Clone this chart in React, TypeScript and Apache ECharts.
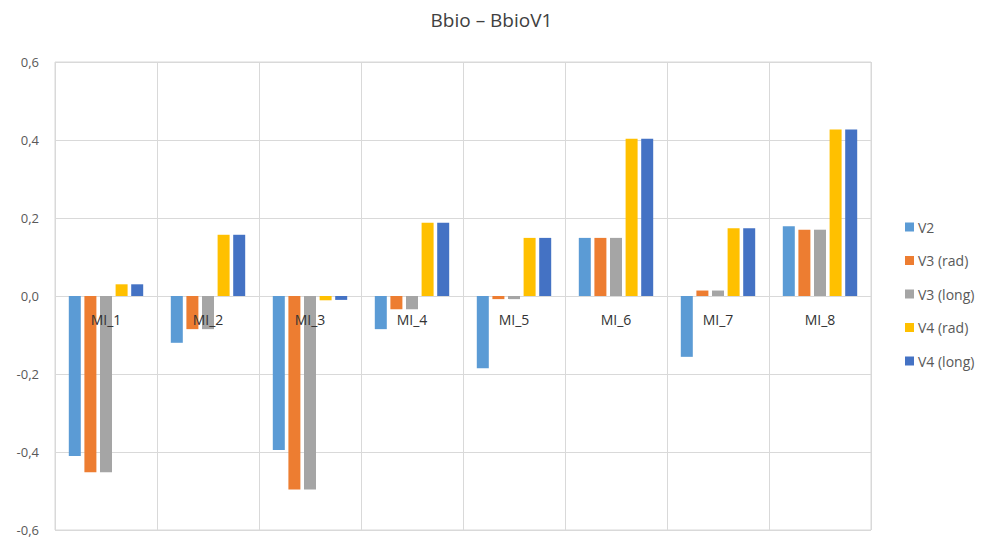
import React, { useEffect, useRef } from "react";
import * as echarts from "echarts";

const categories = ["MI_1", "MI_2", "MI_3", "MI_4", "MI_5", "MI_6", "MI_7", "MI_8"];
const seriesNames = ["V2", "V3 (rad)", "V3 (long)", "V4 (rad)", "V4 (long)"];
const v2 = [-0.41, -0.12, -0.395, -0.085, -0.185, 0.149, -0.156, 0.179];
const v3rad = [-0.452, -0.085, -0.496, -0.034, -0.008, 0.149, 0.014, 0.17];
const v3long = [-0.452, -0.085, -0.496, -0.034, -0.008, 0.149, 0.014, 0.17];
const v4rad = [0.03, 0.157, -0.011, 0.188, 0.149, 0.403, 0.174, 0.427];
const v4long = [0.03, 0.157, -0.01, 0.188, 0.149, 0.403, 0.174, 0.427];
const colors = ["#5B9BD5", "#ED7D31", "#A5A5A5", "#FFC000", "#4472C4"];

const FONT = "'Open Sans', 'Liberation Sans', sans-serif";

export default function App() {
  const ref = useRef<HTMLDivElement>(null);
  useEffect(() => {
    if (!ref.current) return;
    const chart = echarts.init(ref.current, undefined, { renderer: "svg" });
    const data = [v2, v3rad, v3long, v4rad, v4long];
    const gridTop = 62;
    const gridBottom = 9;
    const height = 539;
    const yMin = -0.6;
    const yMax = 0.6;
    const plotH = height - gridTop - gridBottom;
    const zeroOffset = -plotH * (0 - yMin) / (yMax - yMin);
    chart.setOption({
      animation: false,
      backgroundColor: "#ffffff",
      title: {
        text: "Bbio \u2013 BbioV1",
        left: "center",
        top: 5,
        textStyle: { fontFamily: FONT, fontSize: 19, fontWeight: "normal", color: "#404040" },
      },
      legend: {
        orient: "vertical",
        left: 900,
        top: 215,
        itemWidth: 9,
        itemHeight: 9,
        itemGap: 19.5,
        icon: "rect",
        data: seriesNames,
        textStyle: { fontFamily: FONT, fontSize: 14, color: "#595959", padding: [0, 0, 0, -1] },
      },
      grid: {
        left: 55,
        right: 112,
        top: gridTop,
        bottom: gridBottom,
        containLabel: false,
        outerBoundsMode: "none",
        show: true,
        borderColor: "#d9d9d9",
        borderWidth: 1,
      },
      xAxis: [
        {
          type: "category",
          data: categories,
          axisLine: { show: false },
          axisTick: { show: false },
          axisLabel: { show: false },
          splitLine: { show: true, lineStyle: { color: "#d9d9d9" } },
        },
        {
          type: "category",
          data: categories,
          position: "bottom",
          offset: zeroOffset,
          z: 10,
          axisLine: { show: false, onZero: false },
          axisTick: { show: false },
          axisLabel: { fontFamily: FONT, fontSize: 14, color: "#333333", margin: 16 },
          splitLine: { show: false },
        },
      ],
      yAxis: {
        type: "value",
        min: yMin,
        max: yMax,
        interval: 0.2,
        axisLine: { show: false },
        axisTick: { show: false },
        axisLabel: {
          fontFamily: FONT,
          fontSize: 13,
          color: "#595959",
          margin: 16,
          formatter: (v: number) => v.toFixed(1).replace(".", ","),
        },
        splitLine: { lineStyle: { color: "#d9d9d9" } },
      },
      series: seriesNames.map((name, i) => ({
        name,
        type: "bar",
        data: data[i],
        barWidth: 12,
        barGap: "30%",
        itemStyle: { color: colors[i] },
      })),
    });
    return () => chart.dispose();
  }, []);
  return <div ref={ref} style={{ position: "fixed", left: 0, top: 0, width: 983, height: 539 }} />;
}
